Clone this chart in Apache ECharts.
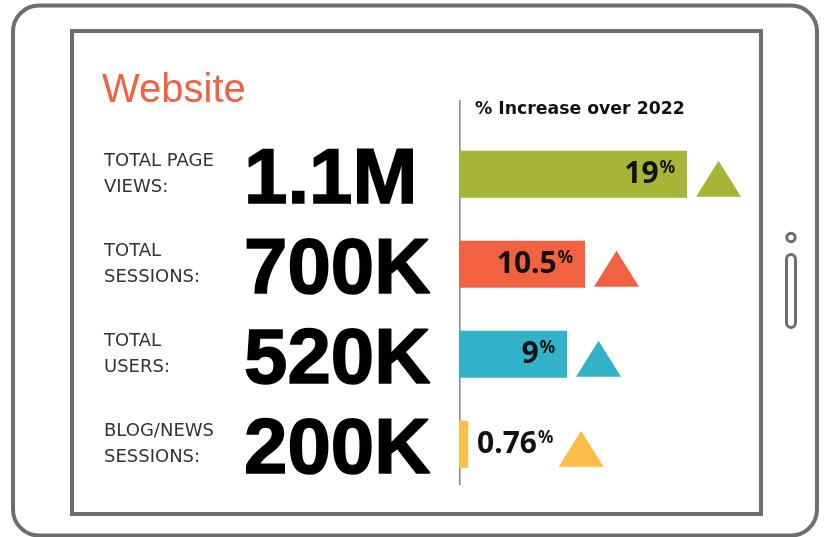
<!DOCTYPE html>
<html>
<head>
<meta charset="utf-8">
<script src="https://cdn.jsdelivr.net/npm/echarts/dist/echarts.min.js"></script>
<style>
html,body{margin:0;padding:0;background:#fff;}
#chart{width:828px;height:537px;}
</style>
</head>
<body>
<div id="chart"></div>
<script>
// ---- data ----
const chartTitle = 'Website';
const barHeader = '% Increase over 2022';
const categories = ['TOTAL PAGE\nVIEWS:', 'TOTAL\nSESSIONS:', 'TOTAL\nUSERS:', 'BLOG/NEWS\nSESSIONS:'];
const totals = ['1.1M', '700K', '520K', '200K'];
const increasePct = [19, 10.5, 9, 0.76];
const barColors = ['#a6b535', '#f26241', '#31b2c8', '#febc48'];

// ---- styles ----
const frameGrey = '#6d6e71';
const labelInside = [true, true, true, false];
const triOffsetX = [31.5, 31.5, 31.5, 113];

const chart = echarts.init(document.getElementById('chart'), null, {renderer: 'canvas'});

const pctRich = {
  n: {fontFamily: 'Noto Sans', fontWeight: 700, fontSize: 30, color: '#111', lineHeight: 34},
  p: {fontFamily: 'Noto Sans', fontWeight: 700, fontSize: 17, color: '#111', verticalAlign: 'top', lineHeight: 20, padding: [2, 0, 0, 1]}
};

const barData = increasePct.map((v, i) => ({
  value: v,
  itemStyle: {color: barColors[i]},
  label: labelInside[i]
    ? {position: 'insideRight', distance: 12}
    : {position: 'right', distance: 9}
}));

const triData = increasePct.map((v, i) => ({
  value: [v, i],
  itemStyle: {color: barColors[i], opacity: 1},
  symbolOffset: [triOffsetX[i], 4.5]
}));

const option = {
  backgroundColor: '#ffffff',
  animation: false,
  title: [
    {text: chartTitle, left: 97, top: 66,
     textStyle: {fontFamily: 'Liberation Sans', fontWeight: 400, fontSize: 40, color: '#f26241'}},
    {text: barHeader, left: 470, top: 96,
     textStyle: {fontFamily: 'DejaVu Sans', fontWeight: 700, fontSize: 17.3, color: '#111'}}
  ],
  grid: {left: 459, top: 129.3, width: 300, height: 360, containLabel: false, outerBoundsMode: 'none'},
  xAxis: {type: 'value', min: 0, max: 25, show: false, splitLine: {show: false}},
  yAxis: [
    {type: 'category', inverse: true, data: categories, position: 'left',
     axisLine: {show: false}, axisTick: {show: false}, splitLine: {show: false},
     axisLabel: {interval: 0, hideOverlap: false, align: 'left', margin: 355, fontFamily: 'DejaVu Sans', fontWeight: 400,
                 fontSize: 18, lineHeight: 25.5, color: '#333333'}},
    {type: 'category', inverse: true, data: totals, position: 'left',
     axisLine: {show: false}, axisTick: {show: false}, splitLine: {show: false},
     axisLabel: {interval: 0, hideOverlap: false, align: 'left', margin: 215,
                 formatter: v => '{b|' + v + '}',
                 rich: {b: {fontFamily: 'Liberation Sans', fontWeight: 700, fontSize: 78, color: '#000',
                            textBorderColor: '#000', textBorderWidth: 1.5, padding: [15, 0, 0, 0]}}}}
  ],
  series: [
    {type: 'bar', xAxisIndex: 0, yAxisIndex: 0, barWidth: 47, data: barData,
     label: {show: true, formatter: p => '{n|' + p.value + '}{p|%}', rich: pctRich}},
    {type: 'scatter', xAxisIndex: 0, yAxisIndex: 1, symbol: 'triangle', symbolSize: [45, 36],
     data: triData, silent: true}
  ],
  graphic: [
    {type: 'rect', shape: {x: 13, y: 5.5, width: 804, height: 530, r: 26},
     style: {fill: 'none', stroke: frameGrey, lineWidth: 4}, z: -1},
    {type: 'rect', shape: {x: 72, y: 31, width: 689, height: 483},
     style: {fill: 'none', stroke: frameGrey, lineWidth: 4}, z: -1},
    {type: 'circle', shape: {cx: 791, cy: 237.5, r: 4.2},
     style: {fill: 'none', stroke: frameGrey, lineWidth: 3}},
    {type: 'rect', shape: {x: 786.5, y: 254.5, width: 9, height: 73, r: 4.5},
     style: {fill: 'none', stroke: frameGrey, lineWidth: 3}},
    {type: 'line', shape: {x1: 459.8, y1: 100, x2: 459.8, y2: 485},
     style: {stroke: '#8a8a8a', lineWidth: 1.6}}
  ]
};
chart.setOption(option);
</script>
</body>
</html>
